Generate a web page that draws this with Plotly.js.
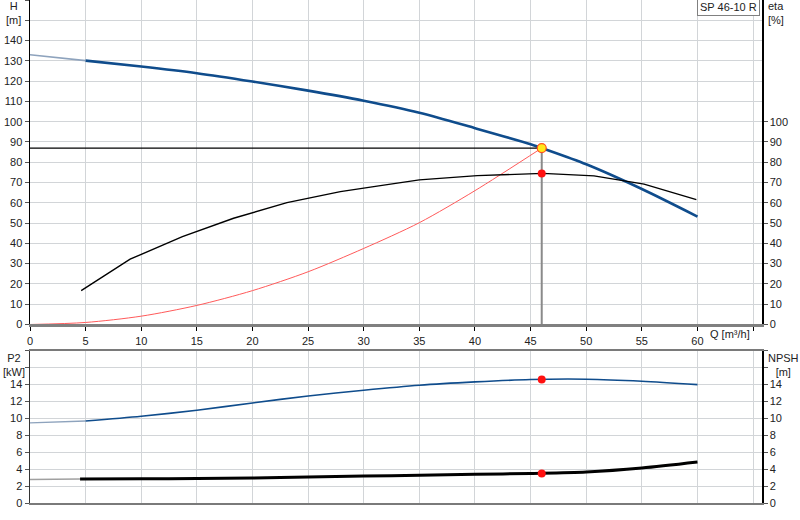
<!DOCTYPE html>
<html>
<head>
<meta charset="utf-8">
<script src="https://cdn.plot.ly/plotly-3.0.1.min.js"></script>
<style>
  html, body { margin: 0; padding: 0; background: #fff; }
  #pumpChart { width: 800px; height: 520px; }
</style>
</head>
<body>
<div id="pumpChart"></div>
<script>
// pump curve readings (Q in m3/h)
const qH = [0, 5, 10, 15, 20, 25, 30, 35, 40, 45, 46, 50, 55, 60];
const head = [133, 130.1, 127.2, 123.9, 119.8, 115.3, 110.3, 104.4, 96.8, 88.9, 87, 79, 66.8, 53.2];

const qEta = [4.6, 9, 13.7, 18.3, 23.1, 27.9, 31.5, 35, 40.2, 45, 46.1, 50.7, 55.2, 59.9];
const eta = [16.7, 32.2, 43.3, 52.4, 60.1, 65.5, 68.5, 71.3, 73.4, 74.4, 74.5, 73.3, 69.2, 61.6];

const qSys = [0, 5, 10, 15, 20, 25, 30, 35, 40, 46];
const hSys = [0, 1, 4.1, 9.4, 16.7, 26, 37.5, 50.2, 66, 87];

const qP2 = [0, 5, 10, 15, 20, 25, 30, 35, 40, 45, 50, 55, 60];
const p2 = [9.47, 9.7, 10.26, 10.97, 11.83, 12.66, 13.34, 13.93, 14.32, 14.6, 14.64, 14.4, 14.0];

const qNpsh = [0, 4.5, 10, 15, 20, 25, 30, 35, 40, 45, 50, 55, 60];
const npsh = [2.77, 2.84, 2.86, 2.89, 2.96, 3.06, 3.18, 3.29, 3.39, 3.5, 3.67, 4.14, 4.85];

// duty point
const dutyQ = 46;
const dutyH = 87;
const dutyEta = 74.5;
const dutyP2 = 14.6;
const dutyNpsh = 3.5;

const qTicks = [0, 5, 10, 15, 20, 25, 30, 35, 40, 45, 50, 55, 60, 65];
const qTickText = ['0', '5', '10', '15', '20', '25', '30', '35', '40', '45', '50', '55', '60', ''];
const hTicks = [0, 10, 20, 30, 40, 50, 60, 70, 80, 90, 100, 110, 120, 130, 140, 150, 160];
const etaTicks = [0, 10, 20, 30, 40, 50, 60, 70, 80, 90, 100];
const lowTicks = [0, 2, 4, 6, 8, 10, 12, 14, 16, 18];

const blue = '#0f4c8c';
const gridCol = '#d2d5d8';
const tickFont = { family: 'Liberation Sans, Arial, sans-serif', size: 11, color: '#222' };

let traces = [
  // head, light lead-in then full curve
  { x: qH.slice(0, 2), y: head.slice(0, 2), xaxis: 'x', yaxis: 'y', mode: 'lines',
    line: { color: '#8ea3bd', width: 1.6 } },
  { x: qH.slice(1), y: head.slice(1), xaxis: 'x', yaxis: 'y', mode: 'lines',
    line: { color: blue, width: 2.6, shape: 'spline', smoothing: 0.8 } },
  // system curve
  { x: qSys, y: hSys, xaxis: 'x', yaxis: 'y', mode: 'lines',
    line: { color: '#ff5a5a', width: 1, shape: 'spline', smoothing: 0.8 } },
  // duty lines
  { x: [0, dutyQ], y: [dutyH, dutyH], xaxis: 'x', yaxis: 'y', mode: 'lines',
    line: { color: '#000', width: 1.2 } },
  { x: [dutyQ, dutyQ], y: [0, dutyH], xaxis: 'x', yaxis: 'y', mode: 'lines',
    line: { color: '#8a8a8a', width: 2 } },
  // efficiency
  { x: qEta, y: eta, xaxis: 'x', yaxis: 'y2', mode: 'lines',
    line: { color: '#000', width: 1.4 } },
  { x: [dutyQ], y: [dutyEta], xaxis: 'x', yaxis: 'y2', mode: 'markers',
    marker: { color: '#ff1010', size: 8 } },
  { x: [dutyQ], y: [dutyH], xaxis: 'x', yaxis: 'y', mode: 'markers',
    marker: { color: '#ffe81a', size: 9, line: { color: '#ff5020', width: 1.2 } } },
  // P2
  { x: qP2.slice(0, 2), y: p2.slice(0, 2), xaxis: 'x2', yaxis: 'y3', mode: 'lines',
    line: { color: '#8ea3bd', width: 1.4 } },
  { x: qP2.slice(1), y: p2.slice(1), xaxis: 'x2', yaxis: 'y3', mode: 'lines',
    line: { color: blue, width: 1.6, shape: 'spline', smoothing: 0.8 } },
  { x: [dutyQ], y: [dutyP2], xaxis: 'x2', yaxis: 'y3', mode: 'markers',
    marker: { color: '#ff1010', size: 8 } },
  // NPSH
  { x: qNpsh.slice(0, 2), y: npsh.slice(0, 2), xaxis: 'x2', yaxis: 'y4', mode: 'lines',
    line: { color: '#a0a0a0', width: 1.4 } },
  { x: qNpsh.slice(1), y: npsh.slice(1), xaxis: 'x2', yaxis: 'y4', mode: 'lines',
    line: { color: '#000', width: 3, shape: 'spline', smoothing: 0.8 } },
  { x: [dutyQ], y: [dutyNpsh], xaxis: 'x2', yaxis: 'y4', mode: 'markers',
    marker: { color: '#ff1010', size: 8 } },
];

let xRange = [0, 65.8];

let layout = {
  width: 800,
  height: 520,
  showlegend: false,
  paper_bgcolor: '#fff',
  plot_bgcolor: '#fff',
  margin: { l: 30, r: 38, t: 0, b: 17 },
  font: tickFont,
  xaxis: {
    domain: [0, 1], anchor: 'y', range: xRange,
    tickvals: qTicks, ticktext: qTickText,
    showgrid: true, gridcolor: gridCol, gridwidth: 1, zeroline: false,
    showline: true, linecolor: '#808080', linewidth: 3,
    ticks: 'outside', ticklen: 4, tickcolor: '#000', tickfont: tickFont,
  },
  yaxis: {
    domain: [0.3549, 1], anchor: 'x', range: [0, 160],
    tickvals: hTicks, ticktext: hTicks.map((v) => (v > 140 ? '' : String(v))),
    showgrid: true, gridcolor: gridCol, gridwidth: 1, zeroline: false,
    showline: true, linecolor: '#000', linewidth: 1.5,
    ticks: 'outside', ticklen: 4, tickcolor: '#555', tickfont: tickFont,
  },
  yaxis2: {
    overlaying: 'y', side: 'right', anchor: 'x', range: [0, 160],
    tickvals: etaTicks, showgrid: false, zeroline: false,
    showline: true, linecolor: '#000', linewidth: 1.5,
    ticks: 'outside', ticklen: 4, tickcolor: '#555', tickfont: tickFont,
  },
  xaxis2: {
    domain: [0, 1], anchor: 'y3', range: xRange, matches: 'x',
    tickvals: qTicks, showticklabels: false, ticks: '',
    showgrid: true, gridcolor: gridCol, gridwidth: 1, zeroline: false,
    showline: true, mirror: true, linecolor: '#7a7a7a', linewidth: 2,
  },
  yaxis3: {
    domain: [0, 0.3026], anchor: 'x2', range: [0, 18],
    tickvals: lowTicks, ticktext: lowTicks.map((v) => (v > 14 ? '' : String(v))),
    showgrid: true, gridcolor: gridCol, gridwidth: 1, zeroline: false,
    showline: true, linecolor: '#333', linewidth: 1.5,
    ticks: 'outside', ticklen: 4, tickcolor: '#555', tickfont: tickFont,
  },
  yaxis4: {
    overlaying: 'y3', side: 'right', anchor: 'x2', range: [0, 18],
    tickvals: lowTicks, ticktext: lowTicks.map((v) => (v > 14 ? '' : String(v))),
    showgrid: false, zeroline: false,
    showline: true, linecolor: '#000', linewidth: 1.5,
    ticks: 'outside', ticklen: 4, tickcolor: '#555', tickfont: tickFont,
  },
  annotations: [
    { text: 'H<br>[m]', xref: 'paper', yref: 'paper', x: -0.022, y: 1.003,
      xanchor: 'center', yanchor: 'top', showarrow: false, align: 'center', font: tickFont },
    { text: 'eta<br>[%]', xref: 'paper', yref: 'paper', x: 1.006, y: 1.003,
      xanchor: 'left', yanchor: 'top', showarrow: false, align: 'left', font: tickFont },
    { text: 'P2<br>[kW]', xref: 'paper', yref: 'paper', x: -0.022, y: 0.3032,
      xanchor: 'center', yanchor: 'top', showarrow: false, align: 'center', font: tickFont },
    { text: 'NPSH<br>[m]', xref: 'paper', yref: 'paper', x: 1.006, y: 0.3032,
      xanchor: 'left', yanchor: 'top', showarrow: false, align: 'center', font: tickFont },
    { text: 'Q [m³/h]', xref: 'paper', yref: 'paper', x: 0.956, y: 0.336,
      xanchor: 'center', yanchor: 'middle', showarrow: false, font: tickFont },
    { text: 'SP 46-10 R', xref: 'paper', yref: 'paper', x: 0.9973, y: 1.004,
      xanchor: 'right', yanchor: 'top', showarrow: false, font: tickFont,
      bgcolor: '#fff', bordercolor: '#808080', borderwidth: 1, borderpad: 2 },
  ],
};

Plotly.newPlot('pumpChart', traces, layout, { displayModeBar: false, staticPlot: true });
</script>
</body>
</html>
